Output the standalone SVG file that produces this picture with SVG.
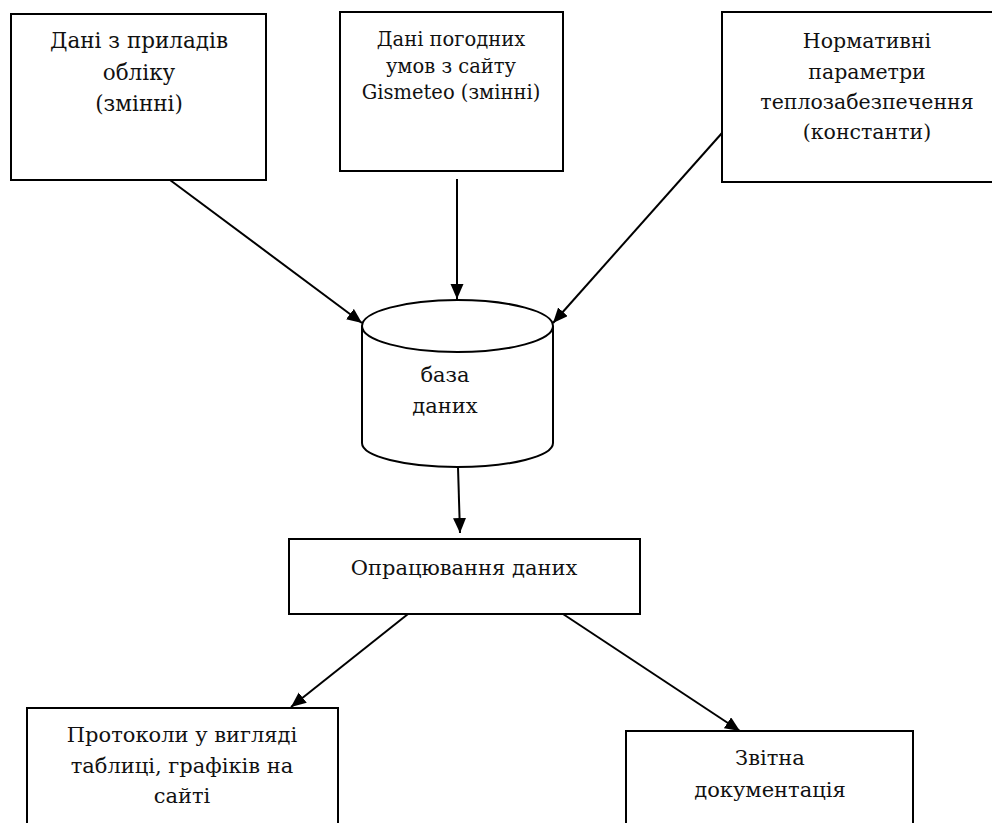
<svg xmlns="http://www.w3.org/2000/svg" width="992" height="823" viewBox="0 0 992 823">
<style>
.box{fill:#fff;stroke:#000;stroke-width:2}
.t{font-family:"DejaVu Serif","Liberation Serif",serif;font-size:21px;fill:#111;text-anchor:middle}
.conn line{stroke:#000;stroke-width:2}
</style>
<defs>
<marker id="ah" markerUnits="userSpaceOnUse" markerWidth="16" markerHeight="14" refX="15" refY="6.5" orient="auto">
<path d="M0,0 L15,6.5 L0,13 z" fill="#000"/>
</marker>
</defs>
<rect width="992" height="823" fill="#fff"/>
<g id="node-pryladiv">
<rect class="box" x="11" y="14" width="255" height="166"/>
<text class="t" x="139" y="48" style="font-size:21.5px">Дані з приладів</text>
<text class="t" x="139" y="80" style="font-size:21.5px">обліку</text>
<text class="t" x="139" y="111" style="font-size:21.5px">(змінні)</text>
</g>
<g id="node-gismeteo">
<rect class="box" x="340" y="12" width="223" height="159"/>
<text class="t" x="451" y="46" style="font-size:19.5px">Дані погодних</text>
<text class="t" x="451" y="73" style="font-size:19.5px">умов з сайту</text>
<text class="t" x="451" y="99" style="font-size:19.5px">Gismeteo (змінні)</text>
</g>
<g id="node-normatyvni">
<rect class="box" x="722" y="12" width="280" height="170"/>
<text class="t" x="867" y="48" style="font-size:20.5px">Нормативні</text>
<text class="t" x="867" y="79" style="font-size:20.5px">параметри</text>
<text class="t" x="867" y="109" style="font-size:20.5px">теплозабезпечення</text>
<text class="t" x="867" y="139" style="font-size:20.5px">(константи)</text>
</g>
<g id="node-baza">
<path class="box" d="M362,326 L362,443 A95.5,24 0 0 0 553,443 L553,326"/>
<ellipse class="box" cx="457.5" cy="326" rx="95.5" ry="26"/>
<text class="t" x="445" y="382">база</text>
<text class="t" x="445" y="413">даних</text>
</g>
<g id="node-opratsiuvannia">
<rect class="box" x="289" y="539" width="351" height="75"/>
<text class="t" x="464" y="575">Опрацювання даних</text>
</g>
<g id="node-protokoly">
<rect class="box" x="27" y="708" width="311" height="130"/>
<text class="t" x="182" y="742">Протоколи у вигляді</text>
<text class="t" x="182" y="773">таблиці, графіків на</text>
<text class="t" x="182" y="803">сайті</text>
</g>
<g id="node-zvitna">
<rect class="box" x="626" y="731" width="287" height="110"/>
<text class="t" x="770" y="765">Звітна</text>
<text class="t" x="770" y="797">документація</text>
</g>
<g id="connectors" class="conn">
<line x1="170" y1="180" x2="362" y2="323" marker-end="url(#ah)"/>
<line x1="457" y1="179" x2="457" y2="299" marker-end="url(#ah)"/>
<line x1="722" y1="133" x2="553" y2="323" marker-end="url(#ah)"/>
<line x1="458" y1="467" x2="460" y2="533" marker-end="url(#ah)"/>
<line x1="408" y1="614" x2="291" y2="707" marker-end="url(#ah)"/>
<line x1="563" y1="614" x2="740" y2="731" marker-end="url(#ah)"/>
</g>
</svg>
